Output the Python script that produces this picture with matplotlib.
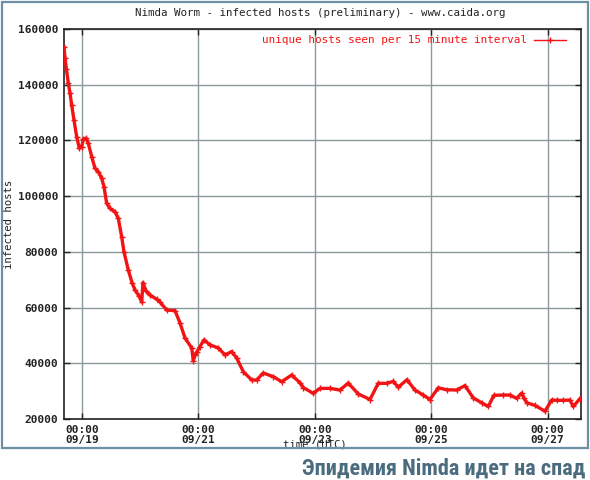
import matplotlib
matplotlib.use("Agg")
import matplotlib.pyplot as plt
import matplotlib.dates as mdates
from matplotlib import font_manager
from matplotlib.patches import Rectangle
import numpy as np
import pandas as pd

# ---- data ----
hours_since_0919 = [
    -7.42, -7.01, -6.39, -5.65, -4.95, -4.25, -3.30, -2.19, -1.11, -0.12,
    0.54, 1.65, 2.60, 4.00, 5.36, 6.72, 8.12, 9.07, 10.19, 11.55,
    13.61, 14.97, 16.37, 17.32, 19.09, 20.62, 21.86, 23.51, 24.62, 25.15,
    26.39, 28.04, 30.80, 32.17, 34.93, 38.35, 40.41, 42.47, 45.24, 45.90,
    46.60, 47.30, 48.66, 50.31, 52.78, 56.21, 58.97, 61.73, 63.79, 66.52,
    69.98, 72.04, 74.76, 78.89, 82.35, 86.48, 89.90, 91.26, 95.38, 98.14,
    102.27, 106.39, 109.81, 113.94, 118.76, 122.19, 125.65, 128.37, 130.43, 134.02,
    137.32, 140.74, 143.50, 146.93, 150.39, 154.52, 157.94, 161.36, 164.83, 167.55,
    169.90, 173.73, 176.50, 179.26, 181.32, 182.27, 183.50, 186.80, 190.93, 193.69,
    195.88, 198.47, 201.24, 202.60, 205.36,
]
infected_hosts = [
    153500, 149600, 145500, 140500, 137000, 132700, 127300, 121300, 117200, 117800,
    120400, 120800, 119000, 114200, 110000, 108800, 106400, 103400, 97400, 95600,
    94400, 92000, 85400, 80000, 73500, 69000, 66300, 64200, 62000, 69000,
    66000, 64500, 63000, 62000, 59100, 58900, 54500, 49100, 45500, 41000,
    43000, 44000, 46000, 48400, 46600, 45500, 43000, 44200, 41900, 37000,
    34000, 34000, 36500, 35200, 33400, 35800, 33000, 31300, 29200, 31000,
    31000, 30400, 32900, 29000, 27000, 32800, 32800, 33500, 31400, 34100,
    30400, 28600, 27000, 31200, 30500, 30400, 32000, 27600, 25800, 24500,
    28500, 28600, 28600, 27400, 29300, 27500, 25800, 24900, 22800, 26800,
    26700, 26700, 26800, 24500, 27300,
]
y_ticks = [20000, 40000, 60000, 80000, 100000, 120000, 140000, 160000]
x_tick_days = ["2001-09-19", "2001-09-21", "2001-09-23", "2001-09-25", "2001-09-27"]
x_limits_hours = [-7.42, 205.8]

title = "Nimda Worm - infected hosts (preliminary) - www.caida.org"
legend_label = "unique hosts seen per 15 minute interval"
caption = "Эпидемия Nimda идет на спад"

base = pd.Timestamp("2001-09-19 00:00")
times = [base + pd.Timedelta(hours=h) for h in hours_since_0919]
xlim = [base + pd.Timedelta(hours=h) for h in x_limits_hours]

# ---- fonts ----
avail = {f.name for f in font_manager.fontManager.ttflist}
mono = "DejaVu Sans Mono"
cap_font = None
for cand in ["Liberation Sans Narrow", "Roboto Condensed", "Open Sans Condensed", "Roboto", "Liberation Sans"]:
    if cand in avail:
        cap_font = cand
        break

txt_color = "#222222"
red = "#f21414"

fig = plt.figure(figsize=(5.9, 4.8), dpi=100)
fig.patch.set_facecolor("white")

ax = fig.add_axes([64 / 590, 1 - 419 / 480, (581 - 64) / 590, (419 - 29) / 480])

ax.plot(times, infected_hosts, color=red, lw=2.4, marker="+", ms=5, mew=1.0,
        label=legend_label, zorder=3, solid_joinstyle="round")

ax.set_xlim(xlim)
ax.set_ylim(20000, 160000)
ax.set_yticks(y_ticks)
ax.set_yticklabels([str(v) for v in y_ticks], fontfamily=mono, fontsize=8,
                   fontweight="bold", color=txt_color)
ax.set_xticks([pd.Timestamp(d) for d in x_tick_days])
ax.xaxis.set_major_formatter(mdates.DateFormatter("%H:%M\n%m/%d"))
for lab in ax.get_xticklabels():
    lab.set_fontfamily(mono)
    lab.set_fontsize(8)
    lab.set_fontweight("bold")
    lab.set_color(txt_color)
    lab.set_linespacing(1.0)

ax.grid(True, color="#8c9a9c", lw=1.0)
ax.set_axisbelow(True)
ax.tick_params(direction="in", length=4, width=1, color="#222222",
               top=True, right=True, pad=4)
for s in ax.spines.values():
    s.set_color("#222222")
    s.set_linewidth(1.2)

ax.set_ylabel("infected hosts", fontfamily=mono, fontsize=7.7, color=txt_color)
ax.yaxis.set_label_coords(-0.096, 0.5)
ax.set_xlabel("time (UTC)", fontfamily=mono, fontsize=7.7, color=txt_color)
ax.xaxis.set_label_coords((315 - 64) / 517, -0.052)

fig.text(320 / 590, 1 - 13 / 480, title, ha="center", va="center",
         fontfamily=mono, fontsize=7.8, color=txt_color)

leg = ax.legend(loc="upper right", bbox_to_anchor=((567 - 64) / 517 + 0.006, 0.995),
                frameon=False, prop={"family": mono, "size": 7.95},
                handlelength=2.9, borderaxespad=0.0, handletextpad=0.6,
                markerfirst=False, numpoints=1)
for t in leg.get_texts():
    t.set_color(red)
for h in leg.legend_handles:
    h.set_linewidth(1.0)
    h.set_markersize(4)

# outer frame of the image
fig.patches.append(Rectangle((2 / 590, 1 - 448 / 480), 586 / 590, 446 / 480,
                             transform=fig.transFigure, fill=False,
                             edgecolor="#6d8fa3", lw=1.6))

fig.text(585 / 590, 1 - 474.5 / 480, caption, ha="right", va="baseline",
         fontfamily=cap_font, fontsize=16, fontweight="bold", color="#4a6c7e")

fig.savefig("out.png", dpi=100)
